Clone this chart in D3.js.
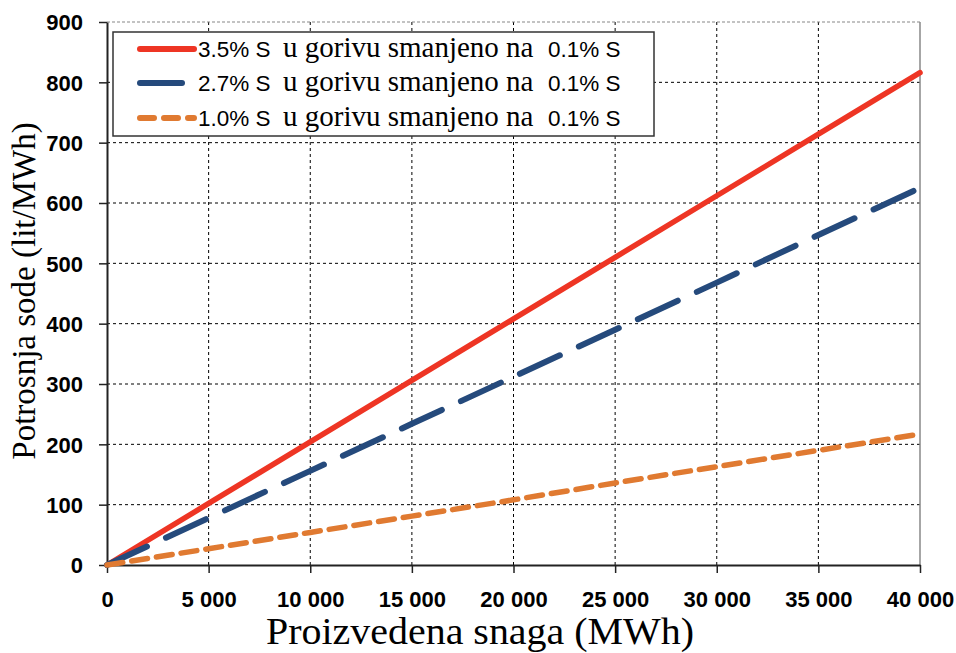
<!DOCTYPE html>
<html><head><meta charset="utf-8">
<script src="https://cdn.jsdelivr.net/npm/d3@7"></script>
<style>body{margin:0;background:#fff;} svg{display:block;}</style>
</head><body>
<svg id="c" width="956" height="653"></svg>
<script>
const xValues = [0, 5000, 10000, 15000, 20000, 25000, 30000, 35000, 40000];
const series35 = [0, 102, 204, 306, 408, 510, 612, 714, 816];
const series27 = [0, 78, 156, 234, 312, 390, 468, 547, 625];
const series10 = [0, 27, 54, 81, 108, 136, 163, 190, 217];
const xTicks = [0, 5000, 10000, 15000, 20000, 25000, 30000, 35000, 40000];
const yTicks = [0, 100, 200, 300, 400, 500, 600, 700, 800, 900];
const legendLabels = ["3.5% S", "2.7% S", "1.0% S"];

const svg = d3.select("#c");
const m = {l:107, r:920, t:22, b:565};
const x = d3.scaleLinear().domain([0, 40000]).range([m.l, m.r]);
const y = d3.scaleLinear().domain([0, 900]).range([m.b, m.t]);
const fmt = v => d3.format(",")(v).replace(/,/g, " ");

// grid
const g = svg.append("g");
g.selectAll(".vg").data(xTicks.filter(v => v > 0 && v < 40000)).join("line")
  .attr("x1", d => x(d)).attr("x2", d => x(d)).attr("y1", m.t).attr("y2", m.b)
  .attr("stroke", "#000").attr("stroke-width", 1).attr("stroke-dasharray", "3,3");
g.selectAll(".hg").data(yTicks.filter(v => v > 0 && v < 900)).join("line")
  .attr("x1", m.l).attr("x2", m.r).attr("y1", d => y(d)).attr("y2", d => y(d))
  .attr("stroke", "#000").attr("stroke-width", 1).attr("stroke-dasharray", "3,3");
// top & right border
g.append("line").attr("x1", m.l).attr("x2", m.r).attr("y1", y(900)).attr("y2", y(900))
  .attr("stroke", "#888").attr("stroke-width", 1.2).attr("stroke-dasharray", "3,2");
g.append("line").attr("x1", m.r).attr("x2", m.r).attr("y1", m.t).attr("y2", m.b)
  .attr("stroke", "#888").attr("stroke-width", 1.5);

// axes
const xAxis = svg.append("g").attr("transform", `translate(0,${m.b})`)
  .call(d3.axisBottom(x).tickValues(xTicks).tickFormat(fmt).tickSize(8).tickSizeOuter(0));
const yAxis = svg.append("g").attr("transform", `translate(${m.l},0)`)
  .call(d3.axisLeft(y).tickValues(yTicks).tickSize(8).tickSizeOuter(0));
[xAxis, yAxis].forEach(a => {
  a.select(".domain").attr("stroke", "#222").attr("stroke-width", 2);
  a.selectAll(".tick line").attr("stroke", "#222").attr("stroke-width", 1.5);
  a.selectAll("text").attr("font-family", "Liberation Sans, Arial, sans-serif")
    .attr("font-weight", "bold").attr("font-size", 22).attr("fill", "#000");
});
xAxis.selectAll("text").attr("dy", null).attr("y", 42);
yAxis.selectAll("text").attr("x", -24).attr("dy", "0.36em");

// lines
const pts = vals => xValues.map((v, i) => [v, vals[i]]);
const line = d3.line().x(d => x(d[0])).y(d => y(d[1]));
const styles = [
  {vals: series35, color: "#ee3524", w: 5.5, dash: null},
  {vals: series27, color: "#254a7c", w: 6, dash: "44,21"},
  {vals: series10, color: "#e07a31", w: 5.5, dash: "16,9"}
];
styles.forEach(s => {
  svg.append("path").attr("d", line(pts(s.vals))).attr("fill", "none")
    .attr("stroke", s.color).attr("stroke-width", s.w)
    .attr("stroke-dasharray", s.dash).attr("stroke-linecap", "round");
});

// legend
const lg = svg.append("g");
lg.append("rect").attr("x", 113).attr("y", 32).attr("width", 541).attr("height", 104)
  .attr("fill", "#fff").attr("stroke", "#333").attr("stroke-width", 1.5);
const rowsY = [49, 83, 118];
const sampleEnd = [194, 182, 194];
const sampleDash = [null, null, "14,10"];
styles.forEach((s, i) => {
  lg.append("line").attr("x1", 140).attr("x2", sampleEnd[i]).attr("y1", rowsY[i]).attr("y2", rowsY[i])
    .attr("stroke", s.color).attr("stroke-width", 6).attr("stroke-linecap", "round")
    .attr("stroke-dasharray", sampleDash[i]);
  const yy = rowsY[i] + 8;
  lg.append("text").attr("x", 198).attr("y", yy).attr("font-size", 22.5)
    .attr("font-family", "Liberation Sans, Arial, sans-serif").text(legendLabels[i]);
  lg.append("text").attr("x", 283).attr("y", yy).attr("font-size", 29)
    .attr("font-family", "Liberation Serif, Times New Roman, serif").text("u gorivu smanjeno na");
  lg.append("text").attr("x", 548).attr("y", yy).attr("font-size", 22.5)
    .attr("font-family", "Liberation Sans, Arial, sans-serif").text("0.1% S");
});

// axis titles
svg.append("text").attr("x", 480).attr("y", 644).attr("text-anchor", "middle")
  .attr("font-family", "Liberation Serif, Times New Roman, serif").attr("font-size", 38)
  .attr("textLength", 428).attr("lengthAdjust", "spacingAndGlyphs")
  .text("Proizvedena snaga (MWh)");
svg.append("text").attr("transform", "translate(35,291) rotate(-90)").attr("text-anchor", "middle")
  .attr("font-family", "Liberation Serif, Times New Roman, serif").attr("font-size", 33)
  .text("Potrosnja sode (lit/MWh)");
</script>
</body></html>
